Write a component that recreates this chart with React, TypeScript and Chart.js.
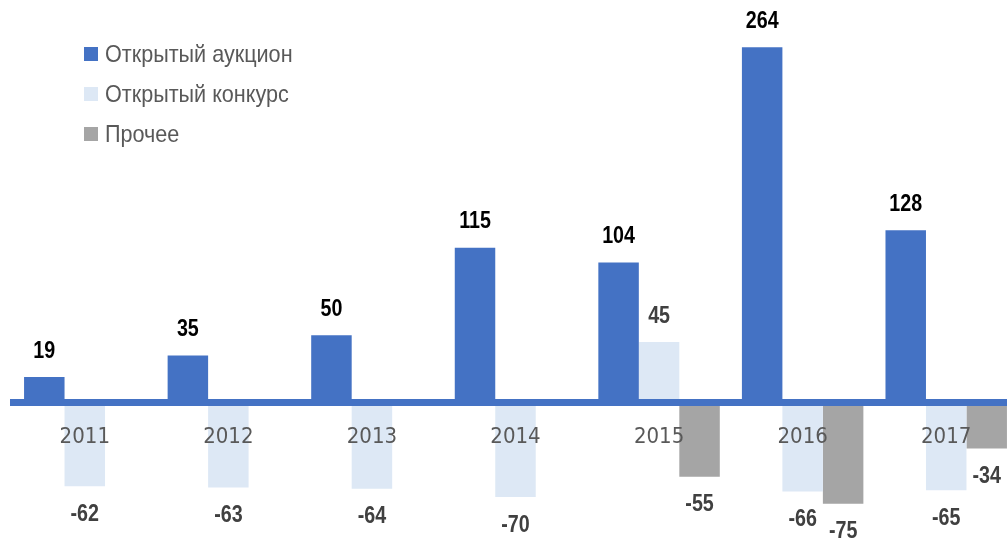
import React, { useEffect, useRef } from "react";
import { Chart, registerables } from "chart.js";

Chart.register(...registerables);

const categories = ["2011", "2012", "2013", "2014", "2015", "2016", "2017"];
const auctionValues = [19, 35, 50, 115, 104, 264, 128];
const contestValues = [-62, -63, -64, -70, 45, -66, -65];
const otherValues: (number | null)[] = [null, null, null, null, -55, -75, -34];
const seriesNames = ["Открытый аукцион", "Открытый конкурс", "Прочее"];
const seriesColors = ["#4472C4", "#DDE8F5", "#A5A5A5"];
const labelColors = ["#000000", "#404040", "#404040"];

const FONT = "'Liberation Sans', Arial, sans-serif";
const TICK_FONT = "'DejaVu Sans Condensed', 'Liberation Sans', sans-serif";

function narrowText(ctx: CanvasRenderingContext2D, text: string, x: number, y: number, align: "left" | "center", k: number) {
  ctx.save();
  ctx.translate(x, y);
  ctx.scale(k, 1);
  ctx.textAlign = align;
  ctx.fillText(text, 0, 0);
  ctx.restore();
}

const valueLabelPlugin = {
  id: "valueLabels",
  afterDraw(chart: any) {
    const ctx = chart.ctx;
    ctx.save();
    ctx.font = `bold 24px ${FONT}`;
    ctx.textBaseline = "middle";
    chart.data.datasets.forEach((ds: any, di: number) => {
      const meta = chart.getDatasetMeta(di);
      meta.data.forEach((bar: any, i: number) => {
        const v = ds.data[i];
        if (v === null || v === undefined) return;
        ctx.fillStyle = labelColors[di];
        const y = v >= 0 ? bar.y - 26 : bar.y + 28;
        narrowText(ctx, String(v), bar.x, y, "center", 0.82);
      });
    });
    ctx.restore();
  },
};

const legendPlugin = {
  id: "customLegend",
  afterDraw(chart: any) {
    const ctx = chart.ctx;
    ctx.save();
    ctx.font = `24px ${FONT}`;
    ctx.textBaseline = "middle";
    chart.data.datasets.forEach((ds: any, di: number) => {
      const cy = 54 + di * 40;
      ctx.fillStyle = ds.backgroundColor;
      ctx.fillRect(84, cy - 7, 14, 14);
      ctx.fillStyle = "#595959";
      narrowText(ctx, ds.label, 105, cy + 1, "left", 0.9);
    });
    ctx.restore();
  },
};

export default function App() {
  const canvasRef = useRef<HTMLCanvasElement | null>(null);

  useEffect(() => {
    document.body.style.margin = "0";
    if (!canvasRef.current) return;
    const chart = new Chart(canvasRef.current, {
      type: "bar",
      data: {
        labels: categories,
        datasets: [
          { label: seriesNames[0], data: auctionValues, backgroundColor: seriesColors[0] },
          { label: seriesNames[1], data: contestValues, backgroundColor: seriesColors[1] },
          { label: seriesNames[2], data: otherValues, backgroundColor: seriesColors[2] },
        ],
      },
      options: {
        responsive: true,
        maintainAspectRatio: false,
        animation: false,
        layout: { padding: { left: 13, right: 0, top: 0, bottom: 0 } },
        datasets: {
          bar: { categoryPercentage: 0.846, barPercentage: 1 },
        },
        plugins: {
          legend: { display: false },
          tooltip: { enabled: false },
        },
        scales: {
          y: {
            display: false,
            min: -100.5,
            max: 299,
          },
          x: {
            position: { y: 0 } as any,
            grid: { display: false, drawTicks: false },
            border: { display: true, color: "#4472C4", width: 7, z: 1 },
            ticks: {
              color: "#595959",
              font: { family: TICK_FONT, size: 22 },
              padding: 21,
              maxRotation: 0,
              z: 2,
            },
          },
        },
      },
      plugins: [valueLabelPlugin, legendPlugin],
    });
    return () => chart.destroy();
  }, []);

  return (
    <div style={{ width: 1007, height: 538, overflow: "hidden", position: "relative", background: "#fff" }}>
      <div style={{ position: "absolute", left: 0, top: 0, width: 1018, height: 538 }}>
        <canvas ref={canvasRef} />
      </div>
    </div>
  );
}
